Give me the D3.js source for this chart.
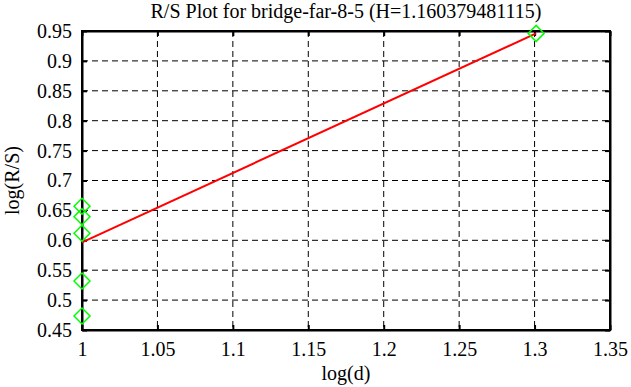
<!DOCTYPE html>
<html>
<head>
<meta charset="utf-8">
<script src="https://cdn.jsdelivr.net/npm/d3@7"></script>
<style>
body { margin: 0; background: #fff; }
svg text { font-family: "Liberation Serif", "Times New Roman", serif; fill: #000; }
</style>
</head>
<body>
<div class="container"></div>
<script>
var svgWidth = 631;
var svgHeight = 387;
var fontFam = "Liberation Serif";

var margin = { top: 31, bottom: 57, left: 82, right: 21 };
var chartWidth = svgWidth - margin.left - margin.right;
var chartHeight = svgHeight - margin.top - margin.bottom;

// data
var logD = [1, 1, 1, 1, 1, 1.30103];
var logRS = [0.657, 0.6395, 0.6117, 0.532, 0.4734, 0.946];
var fitX = [1, 1.30103];
var fitY = [0.5966, 0.946];
var xTicks = [1, 1.05, 1.1, 1.15, 1.2, 1.25, 1.3, 1.35];
var yTicks = [0.45, 0.5, 0.55, 0.6, 0.65, 0.7, 0.75, 0.8, 0.85, 0.9, 0.95];
var title = "R/S Plot for bridge-far-8-5 (H=1.160379481115)";

var svg = d3.select(".container")
    .append("svg")
    .attr("width", svgWidth)
    .attr("height", svgHeight);

var chartGroup = svg.append("g")
    .attr("transform", `translate(${margin.left}, ${margin.top})`);

var x = d3.scaleLinear().domain([1, 1.35]).range([0, chartWidth]);
var y = d3.scaleLinear().domain([0.45, 0.95]).range([chartHeight, 0]);

// dashed grid
chartGroup.selectAll(".vgrid")
    .data(xTicks.slice(1, -1))
    .enter().append("line")
    .attr("x1", d => x(d)).attr("x2", d => x(d))
    .attr("y1", 0).attr("y2", chartHeight)
    .attr("stroke", "#000").attr("stroke-dasharray", "6,4");
chartGroup.selectAll(".hgrid")
    .data(yTicks.slice(1, -1))
    .enter().append("line")
    .attr("y1", d => y(d)).attr("y2", d => y(d))
    .attr("x1", 0).attr("x2", chartWidth)
    .attr("stroke", "#000").attr("stroke-dasharray", "6,4");

var fmt = d => String(+d.toFixed(2));

var bottomAxis = d3.axisBottom(x).tickValues(xTicks).tickFormat(fmt).tickSizeInner(-5).tickSizeOuter(0).tickPadding(12);
var topAxis = d3.axisTop(x).tickValues(xTicks).tickFormat("").tickSizeInner(-5).tickSizeOuter(0);
var leftAxis = d3.axisLeft(y).tickValues(yTicks).tickFormat(fmt).tickSizeInner(-5).tickSizeOuter(0).tickPadding(10);
var rightAxis = d3.axisRight(y).tickValues(yTicks).tickFormat("").tickSizeInner(-5).tickSizeOuter(0);

chartGroup.append("g").attr("class", "axis")
    .attr("transform", `translate(0, ${chartHeight})`).call(bottomAxis);
chartGroup.append("g").attr("class", "axis").call(topAxis);
chartGroup.append("g").attr("class", "axis").call(leftAxis);
chartGroup.append("g").attr("class", "axis")
    .attr("transform", `translate(${chartWidth}, 0)`).call(rightAxis);

chartGroup.selectAll(".axis")
    .attr("font-family", fontFam)
    .attr("font-size", 20);
chartGroup.selectAll(".axis text").attr("font-family", fontFam);
chartGroup.selectAll(".axis path, .axis line")
    .attr("stroke", "#000").attr("stroke-width", 2);

chartGroup.append("rect")
    .attr("width", chartWidth).attr("height", chartHeight)
    .attr("fill", "none").attr("stroke", "#000").attr("stroke-width", 2);

// fitted line
var line = d3.line().x(d => x(d[0])).y(d => y(d[1]));
chartGroup.append("path")
    .datum(d3.zip(fitX, fitY))
    .attr("d", line)
    .attr("fill", "none")
    .attr("stroke", "#ff0000")
    .attr("stroke-width", 2);

// diamond markers
chartGroup.selectAll(".pt")
    .data(d3.zip(logD, logRS))
    .enter().append("path")
    .attr("d", "M0,-8L8,0L0,8L-8,0Z")
    .attr("transform", d => `translate(${x(d[0])}, ${y(d[1])})`)
    .attr("fill", "none")
    .attr("stroke", "#00ff00")
    .attr("stroke-width", 1.5);

svg.append("text")
    .attr("x", margin.left + chartWidth / 2).attr("y", 18)
    .attr("text-anchor", "middle").attr("font-size", 20)
    .attr("font-family", fontFam)
    .text(title);

svg.append("text")
    .attr("x", margin.left + chartWidth / 2).attr("y", 380)
    .attr("text-anchor", "middle").attr("font-size", 20)
    .attr("font-family", fontFam)
    .text("log(d)");

svg.append("text")
    .attr("transform", `translate(19, ${margin.top + chartHeight / 2}) rotate(-90)`)
    .attr("text-anchor", "middle").attr("font-size", 20)
    .attr("font-family", fontFam)
    .text("log(R/S)");
</script>
</body>
</html>
